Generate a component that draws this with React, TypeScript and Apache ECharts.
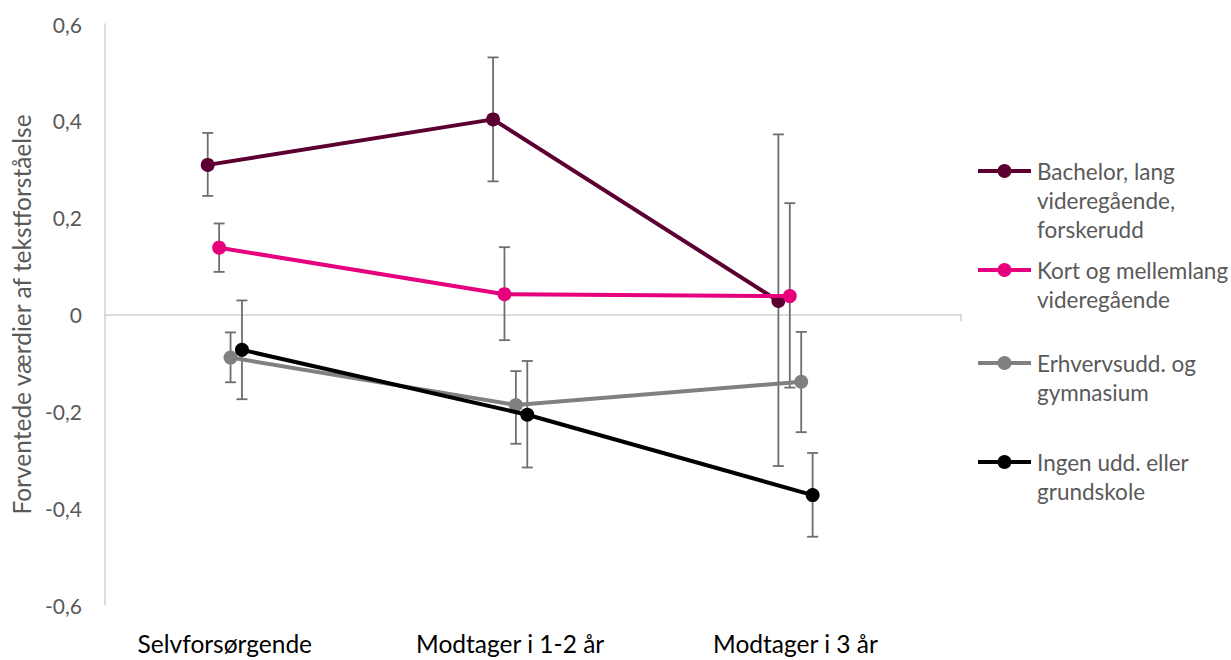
import React, { useEffect, useRef } from "react";
import * as echarts from "echarts";

const categories = ["Selvforsørgende", "Modtager i 1-2 år", "Modtager i 3 år"];
const seriesNames = [
  "Bachelor, lang\nvideregående,\nforskerudd",
  "Kort og mellemlang\nvideregående",
  "Erhvervsudd. og\ngymnasium",
  "Ingen udd. eller\ngrundskole",
];
const bachelor = [0.309, 0.403, 0.028];
const bachelorLow = [0.245, 0.275, -0.313];
const bachelorHigh = [0.375, 0.531, 0.372];
const kort = [0.138, 0.042, 0.038];
const kortLow = [0.088, -0.053, -0.151];
const kortHigh = [0.188, 0.139, 0.23];
const erhverv = [-0.089, -0.187, -0.139];
const erhvervLow = [-0.14, -0.267, -0.243];
const erhvervHigh = [-0.037, -0.117, -0.036];
const ingen = [-0.073, -0.207, -0.373];
const ingenLow = [-0.175, -0.316, -0.459];
const ingenHigh = [0.029, -0.096, -0.286];
const yTicks = [-0.6, -0.4, -0.2, 0, 0.2, 0.4, 0.6];

const values = [bachelor, kort, erhverv, ingen];
const lows = [bachelorLow, kortLow, erhvervLow, ingenLow];
const highs = [bachelorHigh, kortHigh, erhvervHigh, ingenHigh];
const colors = ["#5C0031", "#E6007E", "#808080", "#000000"];
const offsets = [-0.06, -0.02, 0.02, 0.06];
const X_MIN = -0.42;
const X_MAX = 2.58;
const FONT = "Lato, 'Open Sans', sans-serif";
const legendY = [171, 270, 363, 462];

export default function App() {
  const ref = useRef<HTMLDivElement>(null);
  useEffect(() => {
    if (!ref.current) return;
    const chart = echarts.init(ref.current, null, { renderer: "svg" });
    const series: any[] = [];
    values.forEach((vals, s) => {
      series.push({
        type: "custom",
        name: "err" + s,
        xAxisIndex: 0,
        yAxisIndex: 0,
        z: 1,
        encode: { x: 0, y: [1, 2] },
        data: vals.map((_, i) => [i + offsets[s], lows[s][i], highs[s][i]]),
        renderItem: (params: any, api: any) => {
          const x = api.value(0);
          const pLo = api.coord([x, api.value(1)]);
          const pHi = api.coord([x, api.value(2)]);
          const w = 5.5;
          const st = { stroke: "#6E6E6E", lineWidth: 1.8 };
          return {
            type: "group",
            children: [
              { type: "line", shape: { x1: pHi[0], y1: pHi[1], x2: pLo[0], y2: pLo[1] }, style: st },
              { type: "line", shape: { x1: pHi[0] - w, y1: pHi[1], x2: pHi[0] + w, y2: pHi[1] }, style: st },
              { type: "line", shape: { x1: pLo[0] - w, y1: pLo[1], x2: pLo[0] + w, y2: pLo[1] }, style: st },
            ],
          };
        },
      });
    });
    values.forEach((vals, s) => {
      series.push({
        type: "line",
        name: seriesNames[s],
        xAxisIndex: 0,
        yAxisIndex: 0,
        z: 2 + s,
        data: vals.map((v, i) => [i + offsets[s], v]),
        symbol: "circle",
        symbolSize: 14,
        lineStyle: { color: colors[s], width: 4 },
        itemStyle: { color: colors[s] },
      });
    });

    const graphics: any[] = [];
    seriesNames.forEach((name, s) => {
      const y = legendY[s];
      graphics.push({
        type: "line",
        shape: { x1: 978, y1: y, x2: 1031, y2: y },
        style: { stroke: colors[s], lineWidth: 4 },
      });
      graphics.push({
        type: "circle",
        shape: { cx: 1004.5, cy: y, r: 7 },
        style: { fill: colors[s] },
      });
      graphics.push({
        type: "text",
        x: 1037,
        y: y - 14.5,
        style: {
          text: name,
          fill: "#595959",
          font: `22.5px ${FONT}`,
          lineHeight: 29,
          verticalAlign: "top",
          align: "left",
        },
      });
    });

    chart.setOption({
      animation: false,
      textStyle: { fontFamily: FONT },
      grid: { left: 105, right: 270, top: 24, bottom: 55, containLabel: false },
      xAxis: [
        {
          type: "value",
          min: X_MIN,
          max: X_MAX,
          position: "bottom",
          axisLine: { show: true, onZero: true, lineStyle: { color: "#D0D0D0", width: 1.5 } },
          axisTick: { show: true, customValues: [X_MAX], length: 7, lineStyle: { color: "#D0D0D0", width: 1.5 } },
          axisLabel: { show: false },
          splitLine: { show: false },
        },
        {
          type: "value",
          min: X_MIN,
          max: X_MAX,
          position: "bottom",
          axisLine: { show: false, onZero: false },
          axisTick: { show: false },
          splitLine: { show: false },
          axisLabel: {
            show: true,
            customValues: [0, 1, 2],
            formatter: (v: number) => categories[Math.round(v)],
            color: "#000000",
            fontSize: 24.5,
            margin: 26,
            fontFamily: FONT,
          },
        },
      ],
      yAxis: {
        type: "value",
        min: -0.6,
        max: 0.6,
        interval: 0.2,
        name: "Forventede værdier af tekstforståelse",
        nameLocation: "middle",
        nameRotate: 90,
        nameGap: 71,
        nameTextStyle: { color: "#595959", fontSize: 24.5, fontFamily: FONT },
        axisLine: { show: true, onZero: false, lineStyle: { color: "#D0D0D0", width: 1.5 } },
        axisTick: { show: false },
        splitLine: { show: false },
        axisLabel: {
          color: "#595959",
          fontSize: 21,
          margin: 23,
          fontFamily: FONT,
          customValues: yTicks,
          formatter: (v: number) => {
            const r = Math.round(v * 10) / 10;
            return r === 0 ? "0" : r.toFixed(1).replace(".", ",");
          },
        },
      },
      graphic: graphics,
      series,
    });
    return () => chart.dispose();
  }, []);
  return (
    <div
      ref={ref}
      style={{ position: "fixed", left: 0, top: 0, width: 1231, height: 660, background: "#fff" }}
    />
  );
}
